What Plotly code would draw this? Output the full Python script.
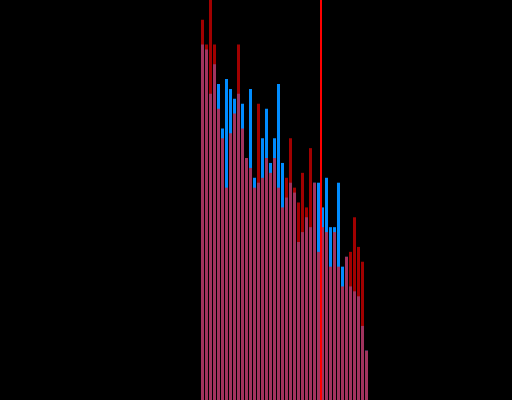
import plotly.graph_objects as go

# Histogram bin positions (one bar per bin)
bins = list(range(42))

# Counts per bin for the two overlaid groups
blue_counts = [72, 71, 62, 68, 64, 55, 65, 63, 61, 62,
               60, 49, 63, 45, 44, 53, 59, 48, 53, 64,
               48, 41, 44, 42, 32, 34, 37, 35, 44, 44,
               39, 45, 35, 35, 44, 27, 29, 23, 22, 21,
               15, 10]
red_counts = [77, 72, 81, 72, 59, 53, 43, 54, 58, 72,
              55, 49, 47, 43, 60, 45, 49, 46, 49, 43,
              39, 45, 53, 43, 40, 46, 39, 51, 44, 30,
              35, 34, 27, 34, 27, 23, 29, 30, 37, 31,
              28, 10]

# Reference marker drawn as a vertical line between bins
marker_x = 29.625

fig = go.Figure()
fig.add_trace(go.Bar(
    x=bins, y=blue_counts, width=0.75,
    marker=dict(color="rgb(0,140,255)", line=dict(width=0)),
    showlegend=False,
))
fig.add_trace(go.Bar(
    x=bins, y=red_counts, width=0.75,
    marker=dict(color="rgba(255,0,0,0.63)", line=dict(width=0)),
    showlegend=False,
))
fig.add_shape(type="line", x0=marker_x, x1=marker_x, y0=0, y1=1,
              xref="x", yref="paper",
              line=dict(color="rgb(255,0,0)", width=2))

fig.update_layout(
    width=512, height=400,
    margin=dict(l=0, r=0, t=0, b=0),
    barmode="overlay",
    paper_bgcolor="black", plot_bgcolor="black",
    xaxis=dict(visible=False, range=[-50.625, 77.375]),
    yaxis=dict(visible=False, range=[0, 81]),
)

fig.write_html("out.html")
